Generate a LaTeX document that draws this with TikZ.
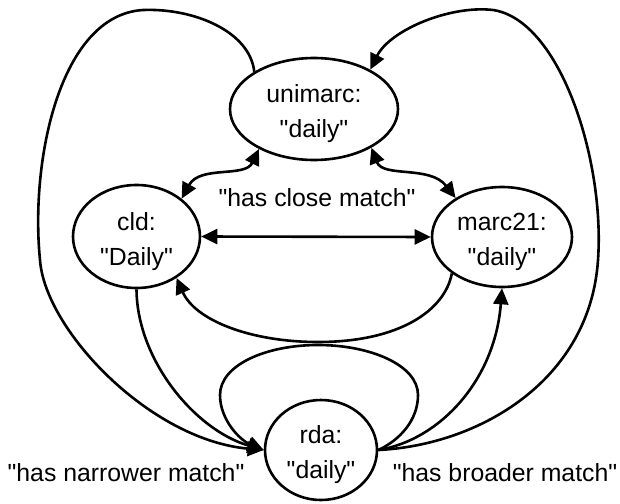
\documentclass[tikz,border=0pt]{standalone}
\usepackage{fontspec}
\setmainfont{Liberation Sans}[Ligatures=TeXOff]
\usetikzlibrary{arrows.meta,shapes.geometric}
\begin{document}
\begin{tikzpicture}[x=1pt,y=-1pt,
  every node/.style={font=\fontsize{24.8}{35}\selectfont},
  ent/.style={draw, ellipse, line width=2.6pt, inner sep=0pt, align=center},
  lbl/.style={inner sep=0pt, anchor=base},
  con/.style={line width=2.6pt},
  tip/.style={-{Triangle[length=16pt,width=15pt]}},
  dtip/.style={{Triangle[length=16pt,width=15pt]}-{Triangle[length=16pt,width=15pt]}}]
\useasboundingbox (0,0) rectangle (620,503);

\node[ent, minimum width=168pt, minimum height=102pt] (unimarc) at (314,109) {\rule{0pt}{28pt}unimarc:\\"daily"};
\node[ent, minimum width=127pt, minimum height=103pt] (cld) at (136.5,236.5) {\rule{0pt}{28pt}cld:\\"Daily"};
\node[ent, minimum width=140pt, minimum height=100pt] (marc21) at (502,237) {\rule{0pt}{28pt}marc21:\\"daily"};
\node[ent, minimum width=112pt, minimum height=100pt] (rda) at (321,450) {\rule{0pt}{28pt}rda:\\"daily"};

\node[lbl] (close) at (317,206) {"has close match"};
\node[lbl] (narrow) at (126,481) {"has narrower match"};
\node[lbl] (broad) at (505,481) {"has broader match"};

% unimarc -> rda (outer left)
\draw[con,tip] (unimarc.148) .. controls (250,32) and (195,8) .. (143,10)
  .. controls (60,15) and (30,160) .. (40,260)
  .. controls (45,330) and (150,440) .. (rda.180);
% cld -> rda
\draw[con,tip] (cld.south) .. controls (137,360) and (195,430) .. (rda.180);
% rda self loop
\draw[con,tip] (rda.east) .. controls (400,440) and (418,420) .. (418,395)
  .. controls (418,365) and (370,345) .. (318,345)
  .. controls (266,345) and (220,365) .. (220,395)
  .. controls (220,420) and (240,440) .. (rda.180);
% marc21 -> cld
\draw[con,tip] (marc21.216) .. controls (445,310) and (400,342) .. (318,342)
  .. controls (250,342) and (195,320) .. (cld.-46);
% rda -> marc21
\draw[con,tip] (rda.east) .. controls (440,440) and (495,380) .. (marc21.south);
% rda -> unimarc (outer right)
\draw[con,tip] (rda.east) .. controls (480,445) and (590,380) .. (598,260)
  .. controls (605,160) and (560,20) .. (493,10)
  .. controls (450,5) and (390,30) .. (unimarc.35);
% close matches
\draw[con,dtip] (unimarc.216) .. controls (245,178) and (200,165) .. (cld.40);
\draw[con,dtip] (unimarc.-34) .. controls (383,178) and (430,165) .. (marc21.140);
\draw[con,dtip] (cld.east) -- (marc21.west);
\end{tikzpicture}
\end{document}
